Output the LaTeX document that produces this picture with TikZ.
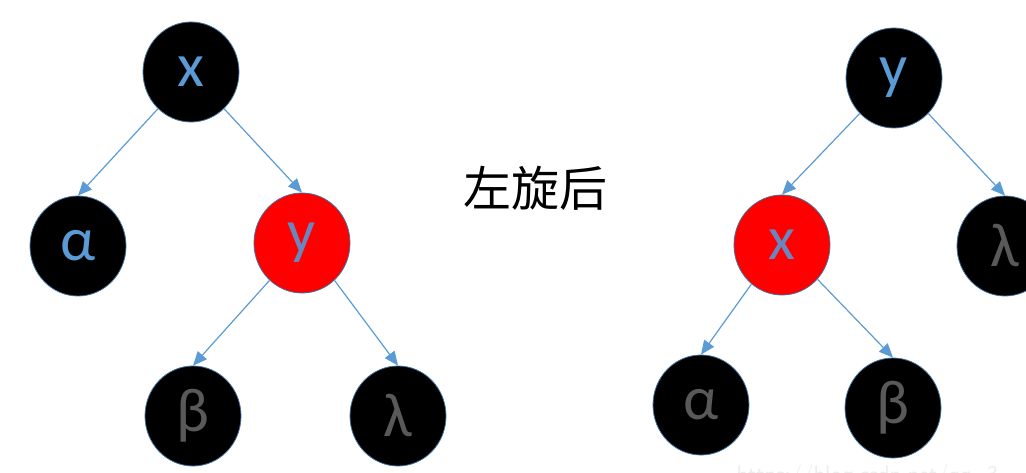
\documentclass[tikz,border=0pt]{standalone}
\usepackage{fontspec}
\setmainfont{Carlito}
\newfontfamily\cjk{Noto Sans CJK SC}
\usetikzlibrary{shapes.geometric,arrows.meta}
\definecolor{edgeblue}{HTML}{5B9BD5}
\definecolor{rimblue}{HTML}{41719C}
\definecolor{labblue}{HTML}{5B9BD5}
\definecolor{labred}{HTML}{6A86BE}
\definecolor{labgray}{HTML}{595959}
\definecolor{nodered}{HTML}{FF0000}
\tikzset{
  treenode/.style={ellipse, minimum width=96pt, minimum height=100pt, inner sep=0pt,
    draw=rimblue, line width=0.8pt, font=\fontsize{62}{62}\selectfont},
  blacknode/.style={treenode, fill=black},
  rednode/.style={treenode, fill=nodered},
  bluelab/.style={text=labblue},
  graylab/.style={text=labgray},
  redlab/.style={text=labred},
  link/.style={draw=edgeblue, line width=1.2pt, -{Triangle[length=14pt,width=12pt]}}
}
\begin{document}
\begin{tikzpicture}[x=1pt,y=-1pt]
\useasboundingbox (0,0) rectangle (1026,473);
\clip (0,0) rectangle (1026,473);
% left tree
\node[blacknode,bluelab] (lx) at (191,72) {x};
\node[blacknode,bluelab] (la) at (78,246) {α};
\node[rednode,redlab] (ly) at (302,243) {y};
\node[blacknode,graylab] (lb) at (193,416) {β};
\node[blacknode,graylab] (ll) at (398,416) {λ};
\draw[link] (lx.228) -- (la.north);
\draw[link] (lx.312) -- (ly.north);
\draw[link] (ly.229) -- (lb.north);
\draw[link] (ly.311) -- (ll.north);
% caption
\node[font=\cjk\fontsize{48}{48}\selectfont] (cap) at (535,188) {左旋后};
% right tree
\node[blacknode,bluelab] (ry) at (894,78) {y};
\node[rednode,redlab] (rx) at (782,245) {x};
\node[blacknode,graylab] (rl) at (1005,246) {λ};
\node[blacknode,graylab] (ra) at (701,405) {α};
\node[blacknode,graylab] (rb) at (893,408) {β};
\draw[link] (ry.226) -- (rx.north);
\draw[link] (ry.314) -- (rl.north);
\draw[link] (rx.232) -- (ra.north);
\draw[link] (rx.316) -- (rb.north);
% watermark
\node[anchor=base west, text=black!7, font=\sffamily\fontsize{24}{24}\selectfont] (wm) at (733,482) {https://blog.csdn.net/qq\_3};
\end{tikzpicture}
\end{document}
